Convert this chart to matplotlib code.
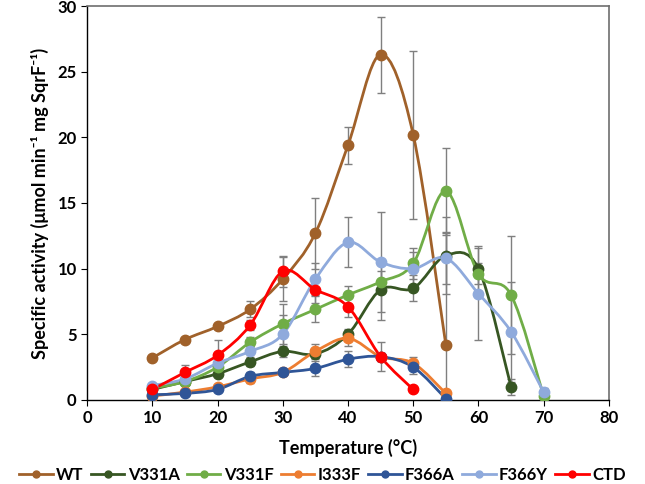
import matplotlib.pyplot as plt
from matplotlib.path import Path
from matplotlib.patches import PathPatch
from matplotlib.lines import Line2D

plt.rcParams['font.family'] = ['Lato', 'DejaVu Sans']

temps = [10, 15, 20, 25, 30, 35, 40, 45, 50, 55, 60, 65, 70]

names = ["WT", "V331A", "V331F", "I333F", "F366A", "F366Y", "CTD"]
colors = ["#a0612a", "#375623", "#70ad47", "#ed7d31", "#2f5597", "#8faadc", "#ff0000"]

wt = [3.2, 4.6, 5.6, 6.9, 9.2, 12.7, 19.4, 26.3, 20.2, 4.2]
wt_err = [0.1, 0.1, 0.2, 0.6, 1.7, 2.7, 1.4, 2.9, 6.4, 8.5]
v331a = [0.8, 1.4, 2.0, 2.9, 3.7, 3.5, 5.0, 8.4, 8.5, 11.0, 10.0, 1.0]
v331a_err = [0.1, 0.2, 0.2, 0.3, 0.4, 0.3, 0.4, 2.3, 1.0, 2.9, 1.7, 0.6]
v331f = [0.9, 1.4, 2.5, 4.4, 5.8, 6.9, 8.0, 9.0, 10.4, 15.9, 9.6, 8.0, 0.3]
v331f_err = [0.1, 0.2, 0.3, 0.4, 1.5, 1.0, 0.7, 0.8, 1.2, 3.3, 0.8, 4.5, 0.3]
i333f = [0.3, 0.6, 1.0, 1.6, 2.1, 3.7, 4.7, 3.3, 2.8, 0.5]
i333f_err = [0.1, 0.1, 0.1, 0.3, 0.2, 0.6, 0.6, 0.3, 0.5, 0.1]
f366a = [0.4, 0.5, 0.8, 1.8, 2.1, 2.4, 3.1, 3.3, 2.5, 0.1]
f366a_err = [0.1, 0.1, 0.1, 0.3, 0.2, 0.6, 0.6, 0.3, 0.5, 0.1]
f366y = [1.1, 1.6, 2.8, 3.7, 5.0, 9.2, 12.0, 10.5, 10.0, 10.8, 8.1, 5.2, 0.6]
f366y_err = [0.1, 0.2, 0.3, 0.4, 1.5, 1.2, 1.9, 3.8, 1.3, 2.0, 3.5, 3.8, 0.3]
ctd = [0.8, 2.1, 3.4, 5.7, 9.8, 8.4, 7.1, 3.3, 0.8]
ctd_err = [0.2, 0.6, 1.2, 0.4, 1.2, 1.0, 0.8, 1.1, 0.1]

series = [wt, v331a, v331f, i333f, f366a, f366y, ctd]
errors = [wt_err, v331a_err, v331f_err, i333f_err, f366a_err, f366y_err, ctd_err]


def smooth_path(xs, ys, k=1/6):
    # Excel-like smoothed line: cubic Bezier through the points
    verts = [(xs[0], ys[0])]
    codes = [Path.MOVETO]
    n = len(xs)
    for i in range(n - 1):
        x0, y0 = (xs[i - 1], ys[i - 1]) if i > 0 else (xs[i], ys[i])
        x1, y1 = xs[i], ys[i]
        x2, y2 = xs[i + 1], ys[i + 1]
        x3, y3 = (xs[i + 2], ys[i + 2]) if i + 2 < n else (x2, y2)
        c1 = (x1 + (x2 - x0) * k, y1 + (y2 - y0) * k)
        c2 = (x2 - (x3 - x1) * k, y2 - (y3 - y1) * k)
        verts += [c1, c2, (x2, y2)]
        codes += [Path.CURVE4] * 3
    return Path(verts, codes)


fig = plt.figure(figsize=(6.45, 4.84), dpi=100)
ax = fig.add_axes([0.135, 0.1736, 0.809, 0.814])

for vals, err, col in zip(series, errors, colors):
    xs = temps[:len(vals)]
    ax.errorbar(xs, vals, yerr=err, fmt="none", ecolor="#7f7f7f",
                elinewidth=1.0, capsize=3, capthick=1.0, zorder=1)

for vals, col in zip(series, colors):
    xs = temps[:len(vals)]
    ax.add_patch(PathPatch(smooth_path(xs, vals), facecolor="none",
                           edgecolor=col, lw=2.0, zorder=2))
    ax.plot(xs, vals, "o", color=col, markersize=7.5, zorder=3)

ax.set_xlim(0, 80)
ax.set_ylim(0, 30)
ax.set_xticks(range(0, 81, 10))
ax.set_yticks(range(0, 31, 5))
for lab in ax.get_xticklabels() + ax.get_yticklabels():
    lab.set_fontweight("bold")
    lab.set_fontsize(12)
ax.tick_params(axis="both", direction="out", length=4, color="black")
for s in ["top", "right"]:
    ax.spines[s].set_color("#6e6e6e")
    ax.spines[s].set_linewidth(1.2)
for s in ["left", "bottom"]:
    ax.spines[s].set_color("black")
    ax.spines[s].set_linewidth(1.0)

ax.set_xlabel("Temperature (°C)", fontsize=13, fontweight="bold", labelpad=9)
ax.set_ylabel("Specific activity (μmol min⁻¹ mg SqrF⁻¹)", fontsize=13,
              fontweight="bold", labelpad=6)

handles = [Line2D([0], [0], color=c, lw=2.0, marker="o", markersize=5)
           for c in colors]
fig.legend(handles, names, loc="lower center", ncol=7, frameon=False,
           bbox_to_anchor=(0.5, -0.015), handlelength=2.0, columnspacing=0.45,
           handletextpad=0.2, borderpad=0.3, borderaxespad=0.2,
           prop={"weight": "bold", "size": 12})

fig.savefig("out.png", dpi=100)
